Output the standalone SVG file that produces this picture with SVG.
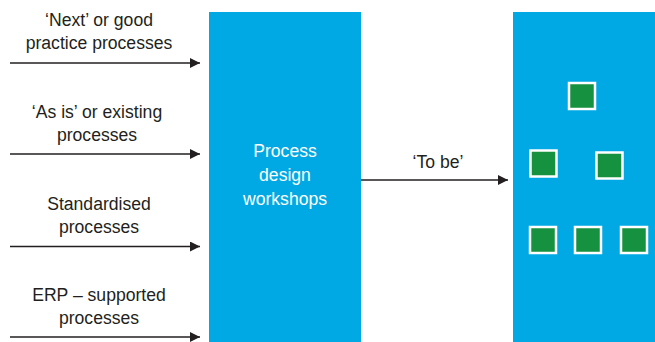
<svg xmlns="http://www.w3.org/2000/svg" width="655" height="342" viewBox="0 0 655 342">
<style>
.lbl{font-family:"Liberation Sans",Arial,sans-serif;font-size:17.6px;fill:#231f20;text-anchor:middle}
.wl{font-family:"Liberation Sans",Arial,sans-serif;font-size:17.6px;fill:#ffffff;text-anchor:middle}
.blk{fill:#00a9e4}
.sq{fill:#16913f;stroke:#ffffff;stroke-width:2.5}
.con{stroke:#231f20;stroke-width:1.3;fill:none;marker-end:url(#ah)}
</style>
<defs>
<marker id="ah" markerWidth="10" markerHeight="10" refX="10" refY="5" orient="auto" markerUnits="userSpaceOnUse">
<path d="M0,0 L10,5 L0,10 Z" fill="#231f20"/>
</marker>
</defs>
<rect width="655" height="342" fill="#ffffff"/>
<g id="connectors">
<line class="con" x1="10" y1="63" x2="200" y2="63"/>
<line class="con" x1="10" y1="154" x2="200" y2="154"/>
<line class="con" x1="10" y1="246.5" x2="200" y2="246.5"/>
<line class="con" x1="10" y1="337" x2="200" y2="337"/>
<line class="con" x1="361" y1="180" x2="508" y2="180"/>
</g>
<g id="label-next">
<text class="lbl" x="99" y="26">‘Next’ or good</text>
<text class="lbl" x="99" y="49">practice processes</text>
</g>
<g id="label-asis">
<text class="lbl" x="97" y="118">‘As is’ or existing</text>
<text class="lbl" x="97" y="141">processes</text>
</g>
<g id="label-std">
<text class="lbl" x="99" y="210">Standardised</text>
<text class="lbl" x="99" y="233">processes</text>
</g>
<g id="label-erp">
<text class="lbl" x="99" y="301">ERP – supported</text>
<text class="lbl" x="99" y="324">processes</text>
</g>
<g id="workshops">
<rect class="blk" x="209" y="12" width="152" height="330"/>
<text class="wl" x="285" y="157">Process</text>
<text class="wl" x="285" y="181">design</text>
<text class="wl" x="285" y="205">workshops</text>
</g>
<g id="label-tobe">
<text class="lbl" x="438" y="168">‘To be’</text>
</g>
<g id="tobe">
<rect class="blk" x="513" y="12" width="142" height="330"/>
<rect class="sq" x="569" y="83" width="26" height="26"/>
<rect class="sq" x="530.5" y="150.5" width="26" height="26"/>
<rect class="sq" x="596.5" y="152.5" width="26" height="26"/>
<rect class="sq" x="530" y="227" width="26" height="26"/>
<rect class="sq" x="575" y="227" width="26" height="26"/>
<rect class="sq" x="621" y="227" width="26" height="26"/>
</g>
</svg>
